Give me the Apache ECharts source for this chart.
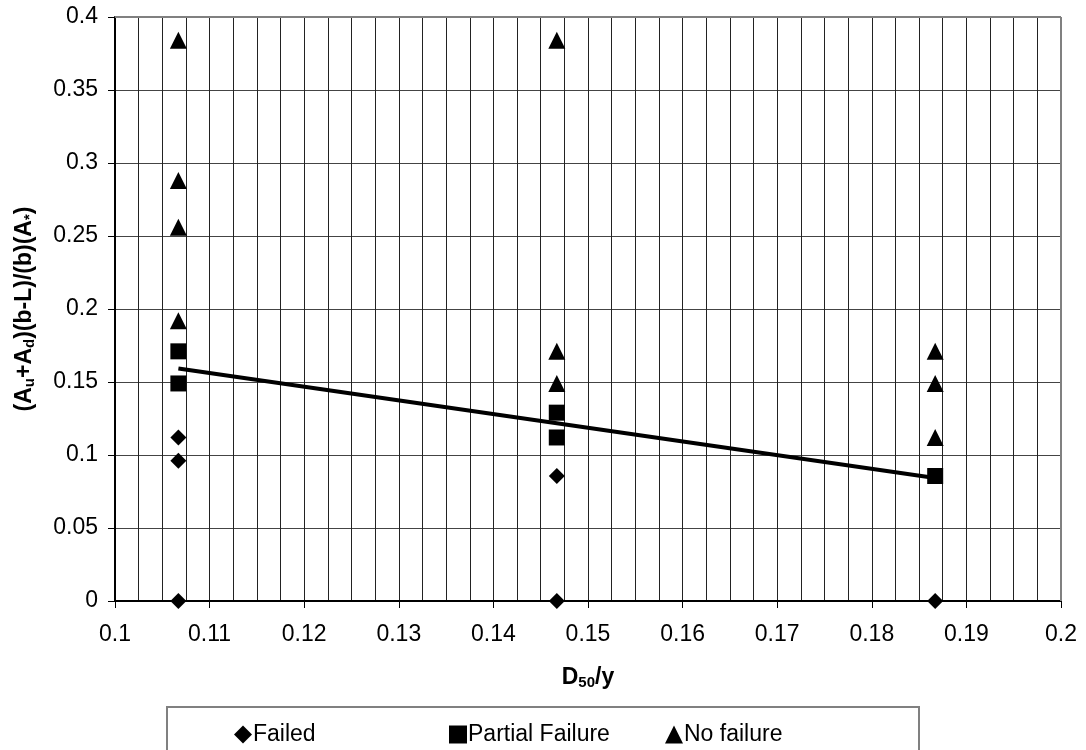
<!DOCTYPE html>
<html><head><meta charset="utf-8">
<script src="https://cdn.jsdelivr.net/npm/echarts@6/dist/echarts.min.js"></script>
<style>html,body{margin:0;padding:0;background:#fff}#c{width:1086px;height:750px}</style>
</head><body><div id="c"></div>
<script>
const failedX = [0.1067, 0.1067, 0.1067, 0.1467, 0.1467, 0.1867];
const failedY = [0.112, 0.096, 0, 0.0856, 0, 0];
const partialX = [0.1067, 0.1067, 0.1467, 0.1467, 0.1867];
const partialY = [0.171, 0.149, 0.129, 0.112, 0.0856];
const noFailX = [0.1067, 0.1067, 0.1067, 0.1067, 0.1467, 0.1467, 0.1467, 0.1867, 0.1867, 0.1867];
const noFailY = [0.384, 0.288, 0.256, 0.192, 0.384, 0.171, 0.149, 0.171, 0.149, 0.112];
const trendX = [0.1067, 0.1867];
const trendY = [0.1592, 0.0843];
const seriesNames = ['Failed', 'Partial Failure', 'No failure'];

const zip = (a, b) => a.map((v, i) => [v, b[i]]);
const font = 'Liberation Sans, Arial, sans-serif';
const FS = 23;
const chart = echarts.init(document.getElementById('c'));
const legendBase = {
  top: 718, itemWidth: 18, itemHeight: 18, itemGap: 0,
  textStyle: {fontFamily: font, fontSize: FS, color: '#000', padding: [0, 0, 0, -4]},
  selectedMode: false
};
const rich = {
  b: {fontFamily: font, fontSize: FS, fontWeight: 'bold', color: '#000'},
  s: {fontFamily: font, fontSize: 15, fontWeight: 'bold', color: '#000', verticalAlign: 'bottom', padding: [10, 0, 0, 0]}
};
chart.setOption({
  animation: false,
  grid: {left: 115, right: 25, top: 17, bottom: 149, show: false},
  xAxis: {
    type: 'value', min: 0.1, max: 0.2, interval: 0.01,
    name: '{b|D}{s|50}{b|/y}', nameLocation: 'middle', nameGap: 64,
    nameTextStyle: {rich: rich},
    axisLine: {show: true, lineStyle: {color: '#000', width: 2}},
    axisTick: {show: true, inside: false, length: 7, lineStyle: {color: '#000', width: 1}},
    minorTick: {show: false, splitNumber: 4},
    minorSplitLine: {show: true, lineStyle: {color: '#222', width: 1}},
    splitLine: {show: true, lineStyle: {color: '#222', width: 1}},
    axisLabel: {fontFamily: font, fontSize: FS, color: '#000', margin: 22}
  },
  yAxis: {
    type: 'value', min: 0, max: 0.4, interval: 0.05,
    name: '{b|(A}{s|u}{b|+A}{s|d}{b|)(b-L)/(b)(A}{s|*}{b|)}',
    nameLocation: 'middle', nameGap: 78, nameRotate: 90,
    nameTextStyle: {rich: rich},
    axisLine: {show: true, lineStyle: {color: '#000', width: 2}},
    axisTick: {show: true, length: 7, lineStyle: {color: '#000', width: 1}},
    splitLine: {show: true, lineStyle: {color: '#444', width: 1}},
    axisLabel: {fontFamily: font, fontSize: FS, color: '#000', margin: 17}
  },
  graphic: [
    {type: 'line', shape: {x1: 115, y1: 17, x2: 1061, y2: 17}, style: {stroke: '#808080', lineWidth: 2}, z: 10},
    {type: 'line', shape: {x1: 1061, y1: 17, x2: 1061, y2: 601}, style: {stroke: '#808080', lineWidth: 2}, z: 10},
    {type: 'rect', shape: {x: 167, y: 707, width: 752, height: 60}, style: {fill: 'none', stroke: '#808080', lineWidth: 2}, z: 10}
  ],
  legend: [
    Object.assign({}, legendBase, {left: 229, data: [{name: seriesNames[0], icon: 'diamond'}]}),
    Object.assign({}, legendBase, {left: 444, data: [{name: seriesNames[1], icon: 'rect'}]}),
    Object.assign({}, legendBase, {left: 660, data: [{name: seriesNames[2], icon: 'triangle'}]})
  ],
  series: [
    {name: 'trend', type: 'line', data: zip(trendX, trendY), showSymbol: false, symbol: 'none',
      lineStyle: {color: '#000', width: 4}, z: 3, silent: true},
    {name: seriesNames[0], type: 'scatter', symbol: 'diamond', symbolSize: 16, itemStyle: {color: '#000', opacity: 1}, data: zip(failedX, failedY), z: 4},
    {name: seriesNames[1], type: 'scatter', symbol: 'rect', symbolSize: 16, itemStyle: {color: '#000', opacity: 1}, data: zip(partialX, partialY), z: 4},
    {name: seriesNames[2], type: 'scatter', symbol: 'triangle', symbolSize: 17, itemStyle: {color: '#000', opacity: 1}, data: zip(noFailX, noFailY), z: 4}
  ]
});
</script></body></html>
